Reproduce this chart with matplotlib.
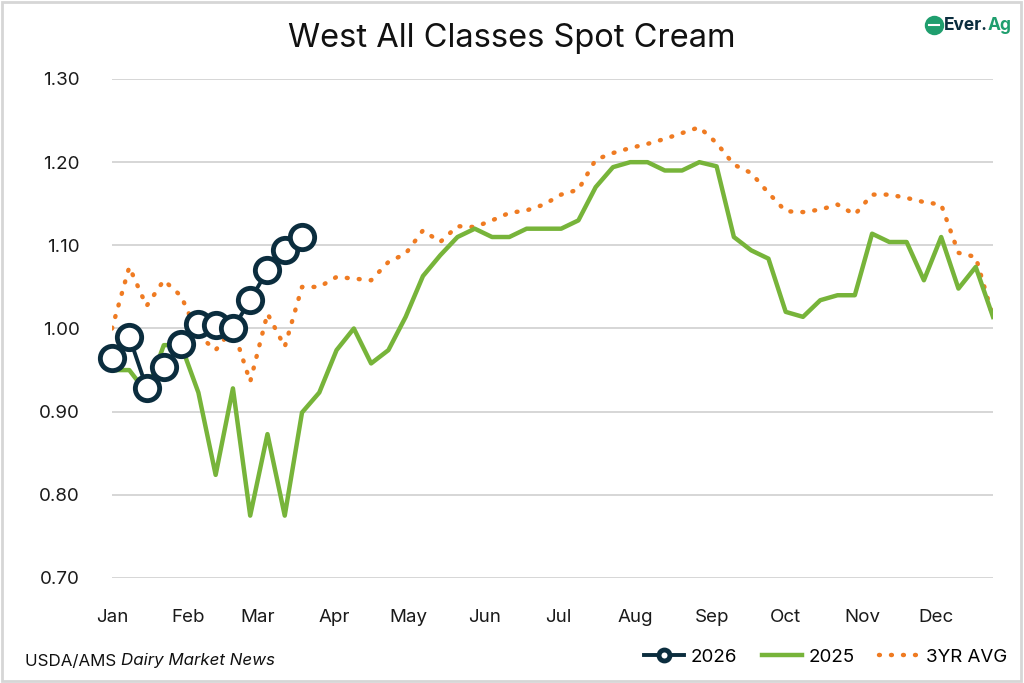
import numpy as np
import matplotlib
matplotlib.use('Agg')
import matplotlib.pyplot as plt
from matplotlib.patches import Rectangle
from matplotlib.lines import Line2D

plt.rcParams['font.family'] = ['Inter', 'DejaVu Sans']

# weekly values, week index 0..51
avg_3yr = [1.000, 1.074, 1.027, 1.058, 1.039, 0.992, 0.974, 1.000, 0.936, 1.018,
           0.978, 1.050, 1.050, 1.062, 1.060, 1.058, 1.080, 1.090, 1.118, 1.104,
           1.123, 1.122, 1.130, 1.139, 1.142, 1.149, 1.161, 1.167, 1.203, 1.211,
           1.217, 1.222, 1.228, 1.235, 1.242, 1.223, 1.197, 1.187, 1.163, 1.141,
           1.140, 1.143, 1.149, 1.137, 1.161, 1.161, 1.157, 1.152, 1.149, 1.091,
           1.086, 1.014]
y2025 = [0.950, 0.950, 0.923, 0.980, 0.980, 0.923, 0.824, 0.928, 0.775, 0.873,
         0.775, 0.899, 0.923, 0.974, 1.000, 0.958, 0.974, 1.014, 1.063, 1.088,
         1.110, 1.120, 1.110, 1.110, 1.120, 1.120, 1.120, 1.130, 1.170, 1.194,
         1.200, 1.200, 1.190, 1.190, 1.200, 1.195, 1.110, 1.094, 1.084, 1.020,
         1.014, 1.034, 1.040, 1.040, 1.114, 1.104, 1.104, 1.058, 1.110, 1.048,
         1.074, 1.014]
y2026 = [0.965, 0.990, 0.929, 0.954, 0.981, 1.005, 1.004, 1.000, 1.034, 1.070,
         1.094, 1.110]

months = ['Jan', 'Feb', 'Mar', 'Apr', 'May', 'Jun', 'Jul', 'Aug', 'Sep', 'Oct', 'Nov', 'Dec']
month_start_day = [0, 31, 59, 90, 120, 151, 181, 212, 243, 273, 304, 334]
yticks = [0.70, 0.80, 0.90, 1.00, 1.10, 1.20, 1.30]

navy = '#0b2d3e'
green = '#77b43a'
orange = '#ef7b22'
logo_green = '#1f9e6e'


def main():
    fig = plt.figure(figsize=(10.24, 6.83), dpi=100)
    ax = fig.add_axes([112 / 1024, 1 - 578 / 683, 881 / 1024, 499 / 683])

    ax.plot(np.arange(len(avg_3yr)), avg_3yr, color=orange, lw=3.2,
            linestyle=(0, (0.2, 2.5)), dash_capstyle='round', label='3YR AVG', zorder=2)
    ax.plot(np.arange(len(y2025)), y2025, color=green, lw=3.2, label='2025', zorder=3)
    ax.plot(np.arange(len(y2026)), y2026, color=navy, lw=2.8, marker='o', ms=17.5,
            mfc='white', mec=navy, mew=3.5, label='2026', zorder=4, clip_on=False)

    ax.set_xlim(0, 51)
    ax.set_ylim(0.70, 1.30)
    ax.set_yticks(yticks)
    ax.set_yticklabels(['%.2f' % v for v in yticks])
    ax.set_xticks(np.array(month_start_day) / 7)
    ax.set_xticklabels(months)
    ax.tick_params(axis='both', length=0, labelsize=13.5, colors='#1a1a1a')
    ax.tick_params(axis='y', pad=23)
    ax.tick_params(axis='x', pad=22)
    ax.grid(axis='y', color='#cfcfcf', lw=1.2)
    ax.set_axisbelow(True)
    for s in ax.spines.values():
        s.set_visible(False)

    fig.text(0.5, 1 - 39 / 683, 'West All Classes Spot Cream', ha='center', va='center',
             fontsize=23.5, color='#111111')

    # legend in the order shown
    h, l = ax.get_legend_handles_labels()
    order = [2, 1, 0]
    fig.legend([h[i] for i in order], [l[i] for i in order], ncol=3, frameon=False,
               loc='center right', bbox_to_anchor=(1.0, 1 - 657 / 683),
               fontsize=13.5, handlelength=2.15, columnspacing=1.3, handletextpad=0.35,
               markerscale=0.45)

    # source note
    t1 = fig.text(25 / 1024, 1 - 661 / 683, 'USDA/AMS ', ha='left', va='center',
                  fontsize=12.2, color='#111111')
    fig.canvas.draw()
    bb = t1.get_window_extent()
    fig.text(bb.x1 / fig.bbox.width, 1 - 661 / 683, 'Dairy Market News', ha='left',
             va='center', fontsize=12.2, style='italic', color='#111111')

    # logo
    fig.lines.append(Line2D([934 / 1024], [1 - 25 / 683], transform=fig.transFigure,
                            marker='o', ms=14, color=logo_green, mec='white', mew=0))
    fig.lines.append(Line2D([929 / 1024, 939 / 1024], [1 - 25 / 683, 1 - 25 / 683],
                            transform=fig.transFigure, color='white', lw=1.5))
    t2 = fig.text(944 / 1024, 1 - 25 / 683, 'Ever.', ha='left', va='center',
                  fontsize=12.5, weight='bold', color=navy)
    fig.canvas.draw()
    bb2 = t2.get_window_extent()
    fig.text(bb2.x1 / fig.bbox.width, 1 - 25 / 683, 'Ag', ha='left', va='center',
             fontsize=12.5, weight='bold', color=logo_green)

    # outer frame
    fig.patches.append(Rectangle((0.002, 0.003), 0.995, 0.994, transform=fig.transFigure,
                                 fill=False, edgecolor='#d6d6d6', lw=2))

    plt.savefig('out.png', dpi=100)
    plt.close('all')


if __name__ == '__main__':
    main()
